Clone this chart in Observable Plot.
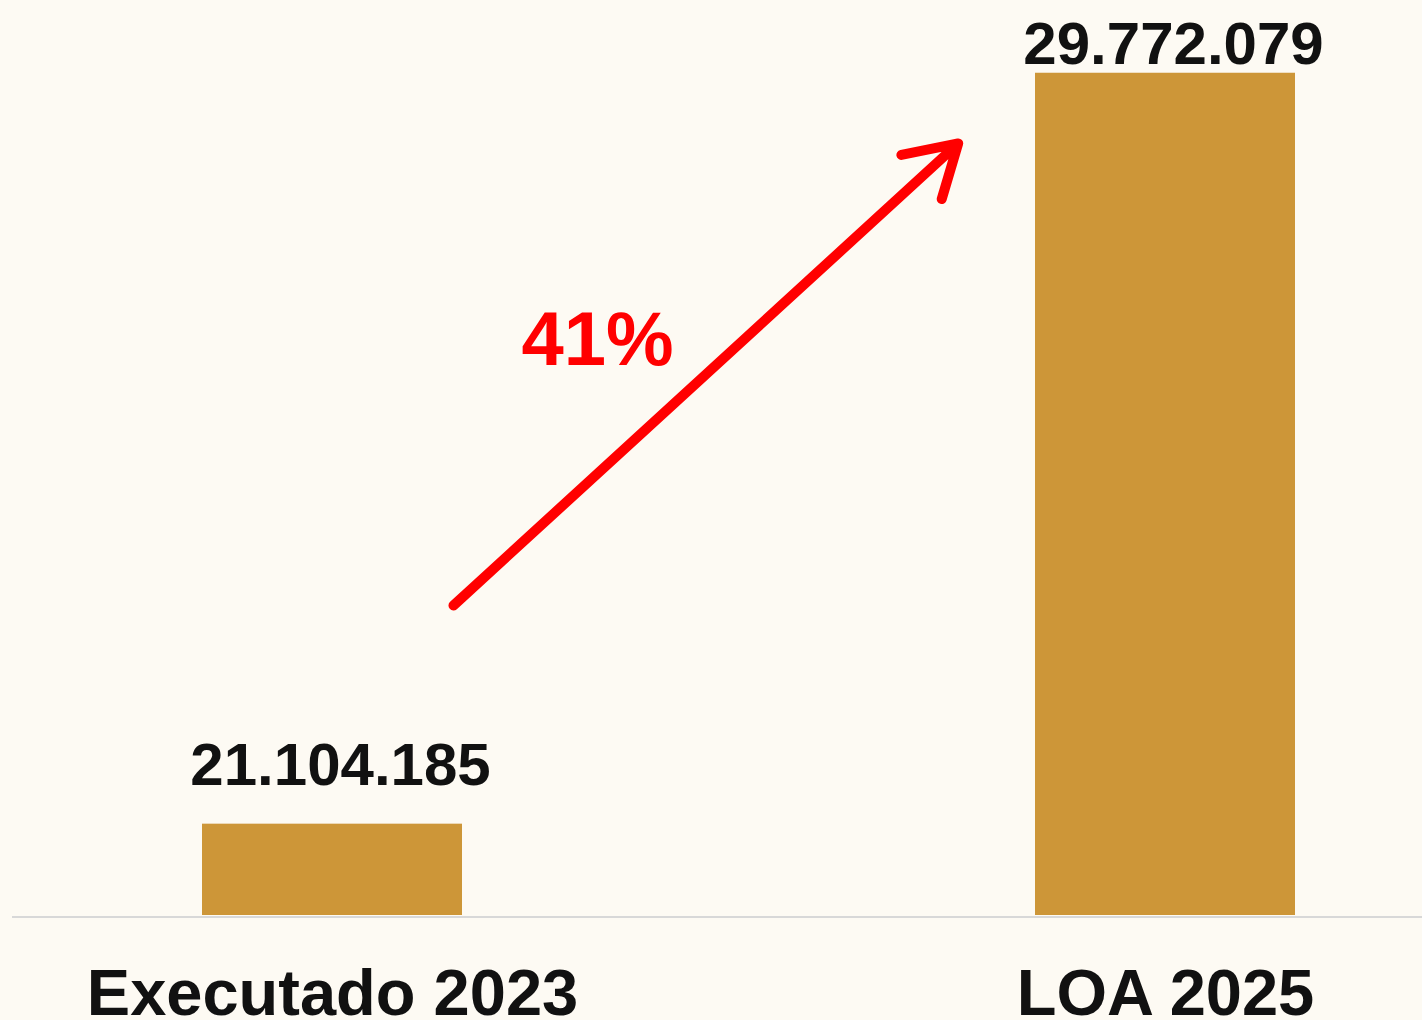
<!DOCTYPE html>
<html><head><meta charset="utf-8">
<script src="https://cdn.jsdelivr.net/npm/d3@7"></script>
<script src="https://cdn.jsdelivr.net/npm/@observablehq/plot@0.6"></script>
<style>
html,body{margin:0;padding:0;background:#fdfaf3;}
</style></head><body><div id="chart"></div>
<script>
// Data
const categories = ["Executado 2023", "LOA 2025"];
const values = [21104185, 29772079];
const yDomain = [20050000, 30000000];
// growth arrow endpoints in value units (at the band centres)
const arrowY = [22350500, 31152400];
const pctLabelY = [26400000];

const data = categories.map((c, i) => ({category: c, value: values[i]}));
const fmt = d3.formatLocale({decimal: ",", thousands: ".", grouping: [3], currency: ["R$", ""]}).format(",d");
const growth = values[1] / values[0] - 1;
const pctText = Math.round(growth * 100) + "%";

const chart = Plot.plot({
  width: 1422, height: 1020,
  marginTop: 53, marginBottom: 105, marginLeft: 118, marginRight: 44,
  style: {background: "#fdfaf3", fontFamily: "'Liberation Sans', Arial, sans-serif", overflow: "visible"},
  x: {domain: categories, paddingInner: 0.688, paddingOuter: 0.1, label: null},
  y: {domain: yDomain, axis: null},
  marks: [
    Plot.barY(data, {x: "category", y1: yDomain[0], y2: "value", fill: "#cd9638"}),
    Plot.ruleY([yDomain[0]], {stroke: "#d8d8d8", strokeWidth: 2, insetLeft: -106, insetRight: -44, dy: 1.5}),
    Plot.axisX({tickSize: 0, tickPadding: 53, fontSize: 65, fontWeight: "bold", fill: "#111", label: null}),
    Plot.text(data.slice(0, 1), {x: "category", y: "value", text: d => fmt(d.value), lineAnchor: "bottom", dx: 8, dy: -39, fontSize: 60, fontWeight: "bold", fill: "#111"}),
    Plot.text(data.slice(1), {x: "category", y: "value", text: d => fmt(d.value), lineAnchor: "bottom", dx: 8, dy: -9, fontSize: 60, fontWeight: "bold", fill: "#111"}),
    Plot.arrow([0], {x1: () => categories[0], x2: () => categories[1], y1: () => arrowY[0], y2: () => arrowY[1], stroke: "#f00", strokeWidth: 10, insetStart: 164, insetEnd: 281, headLength: 8.7, headAngle: 62}),
    Plot.text([pctText], {x: () => categories[0], y: () => pctLabelY[0], text: d => d, dx: 265, fontSize: 76, fontWeight: "bold", fill: "#f00", lineAnchor: "bottom"})
  ]
});
document.getElementById("chart").appendChild(chart);
</script></body></html>
